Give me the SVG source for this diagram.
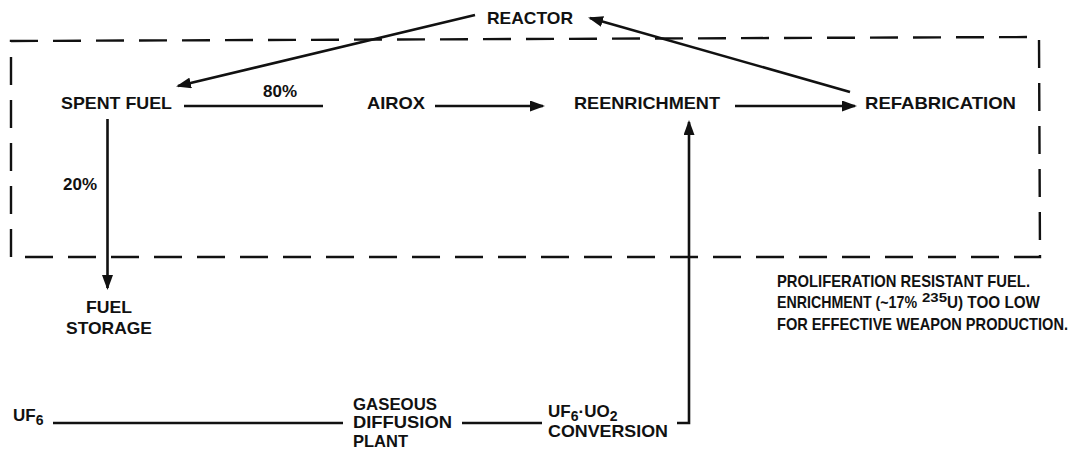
<svg xmlns="http://www.w3.org/2000/svg" width="1075" height="454" viewBox="0 0 1075 454">
  <style>
    .lbl { font-family: "Liberation Sans", Arial, sans-serif; font-weight: bold; font-size: 17px; fill: #111; }
    .sub { font-size: 14px; }
    .note { font-family: "Liberation Sans", Arial, sans-serif; font-weight: bold; font-size: 17px; fill: #111; }
    .sup { font-size: 12px; }
    .flow { fill: none; stroke: #111; stroke-width: 2.6; }
    .arrow { marker-end: url(#head); }
    .boundary { fill: none; stroke: #111; stroke-width: 2.4; stroke-dasharray: 28 15; }
  </style>
  <defs>
    <marker id="head" markerUnits="userSpaceOnUse" markerWidth="15" markerHeight="11" refX="13" refY="5.5" orient="auto">
      <path d="M0,0 L15,5.5 L0,11 Z" fill="#111"/>
    </marker>
  </defs>

  <rect width="1075" height="454" fill="#fff"/>

  <!-- dashed system boundary -->
  <path class="boundary" d="M11,257 L11,41 L1039,37 L1040,257 Z"/>

  <!-- connectors -->
  <g id="connectors">
    <line class="flow arrow" x1="475" y1="15" x2="178" y2="86"/>
    <line class="flow arrow" x1="850" y1="92" x2="590" y2="18"/>
    <line class="flow" x1="184" y1="106" x2="323" y2="106"/>
    <line class="flow arrow" x1="435" y1="106" x2="543" y2="106"/>
    <line class="flow arrow" x1="735" y1="106" x2="855" y2="106"/>
    <line class="flow arrow" x1="107.5" y1="119" x2="107.5" y2="288"/>
    <line class="flow" x1="53" y1="423" x2="343" y2="423"/>
    <line class="flow" x1="462" y1="423" x2="542" y2="423"/>
    <path class="flow arrow" d="M677,423 H689 V122"/>
  </g>

  <g id="reactor">
    <text class="lbl" x="487" y="24" textLength="86" lengthAdjust="spacingAndGlyphs">REACTOR</text>
  </g>
  <g id="spent-fuel">
    <text class="lbl" x="61" y="109" textLength="111" lengthAdjust="spacingAndGlyphs">SPENT FUEL</text>
  </g>
  <g id="split-80">
    <text class="lbl" x="263" y="97" textLength="34" lengthAdjust="spacingAndGlyphs">80%</text>
  </g>
  <g id="airox">
    <text class="lbl" x="367" y="109" textLength="58" lengthAdjust="spacingAndGlyphs">AIROX</text>
  </g>
  <g id="reenrichment">
    <text class="lbl" x="574" y="109" textLength="146" lengthAdjust="spacingAndGlyphs">REENRICHMENT</text>
  </g>
  <g id="refabrication">
    <text class="lbl" x="865" y="109" textLength="151" lengthAdjust="spacingAndGlyphs">REFABRICATION</text>
  </g>
  <g id="split-20">
    <text class="lbl" x="63" y="190" textLength="34" lengthAdjust="spacingAndGlyphs">20%</text>
  </g>
  <g id="fuel-storage">
    <text class="lbl" x="86" y="313" textLength="46" lengthAdjust="spacingAndGlyphs">FUEL</text>
    <text class="lbl" x="66" y="334" textLength="86" lengthAdjust="spacingAndGlyphs">STORAGE</text>
  </g>
  <g id="uf6">
    <text class="lbl" x="13" y="421">UF<tspan class="sub" dy="4">6</tspan></text>
  </g>
  <g id="gaseous-diffusion-plant">
    <text class="lbl" x="353" y="410" textLength="84" lengthAdjust="spacingAndGlyphs">GASEOUS</text>
    <text class="lbl" x="353" y="428" textLength="99" lengthAdjust="spacingAndGlyphs">DIFFUSION</text>
    <text class="lbl" x="353" y="447" textLength="55" lengthAdjust="spacingAndGlyphs">PLANT</text>
  </g>
  <g id="conversion">
    <text class="lbl" x="548" y="417">UF<tspan class="sub" dy="4">6</tspan><tspan dy="-4">·UO</tspan><tspan class="sub" dy="4">2</tspan></text>
    <text class="lbl" x="548" y="437" textLength="120" lengthAdjust="spacingAndGlyphs">CONVERSION</text>
  </g>
  <g id="note">
    <text class="note" x="777" y="287" textLength="253" lengthAdjust="spacingAndGlyphs">PROLIFERATION RESISTANT FUEL.</text>
    <text class="note" x="777" y="308" textLength="140" lengthAdjust="spacingAndGlyphs">ENRICHMENT (~17%</text>
    <text class="note sup" x="922" y="302" textLength="25" lengthAdjust="spacingAndGlyphs">235</text>
    <text class="note" x="947" y="308" textLength="93" lengthAdjust="spacingAndGlyphs">U) TOO LOW</text>
    <text class="note" x="777" y="330" textLength="291" lengthAdjust="spacingAndGlyphs">FOR EFFECTIVE WEAPON PRODUCTION.</text>
  </g>
</svg>
